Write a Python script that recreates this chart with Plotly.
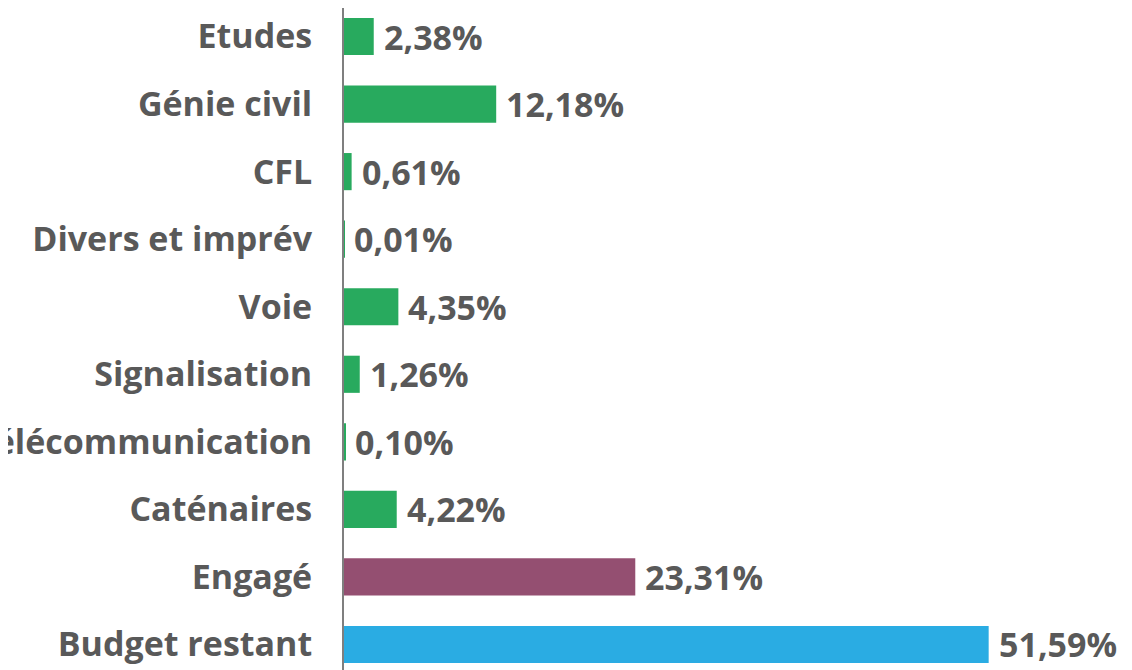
import plotly.graph_objects as go

categories = ["Etudes", "Génie civil", "CFL", "Divers et imprév", "Voie",
              "Signalisation", "Télécommunication", "Caténaires", "Engagé", "Budget restant"]
values = [2.38, 12.18, 0.61, 0.01, 4.35, 1.26, 0.10, 4.22, 23.31, 51.59]
labels = ["2,38%", "12,18%", "0,61%", "0,01%", "4,35%", "1,26%", "0,10%", "4,22%", "23,31%", "51,59%"]
GREEN, PURPLE, BLUE = "#28AA5E", "#944F71", "#2AACE3"
colors = [GREEN] * 8 + [PURPLE, BLUE]

FONT = "Open Sans"
TEXT = "#595959"
FS = 34

fig = go.Figure()
fig.add_trace(go.Bar(
    y=categories, x=values, orientation="h",
    marker=dict(color=colors, line=dict(width=0)),
    width=0.55, showlegend=False, hoverinfo="skip",
))
for c, v, t in zip(categories, values, labels):
    fig.add_annotation(x=v, y=c, text=t, showarrow=False, xanchor="left", yanchor="middle",
                       xshift=8, font=dict(family=FONT, size=FS, color=TEXT, weight="bold"))

fig.update_layout(
    width=1132, height=670,
    margin=dict(l=336, r=0, t=0, b=0),
    paper_bgcolor="white", plot_bgcolor="white",
    font=dict(family=FONT, color=TEXT),
    xaxis=dict(range=[0, 63.7], visible=False, showgrid=False, zeroline=False),
    yaxis=dict(type="category", range=[9.496, -0.422], showgrid=False, zeroline=False,
               showline=True, linecolor="#7f7f7f", linewidth=2, ticks="",
               ticklabelstandoff=23,
               tickfont=dict(family=FONT, size=FS, color=TEXT, weight="bold"),
               automargin=False),
)
fig.write_html("out.html")
